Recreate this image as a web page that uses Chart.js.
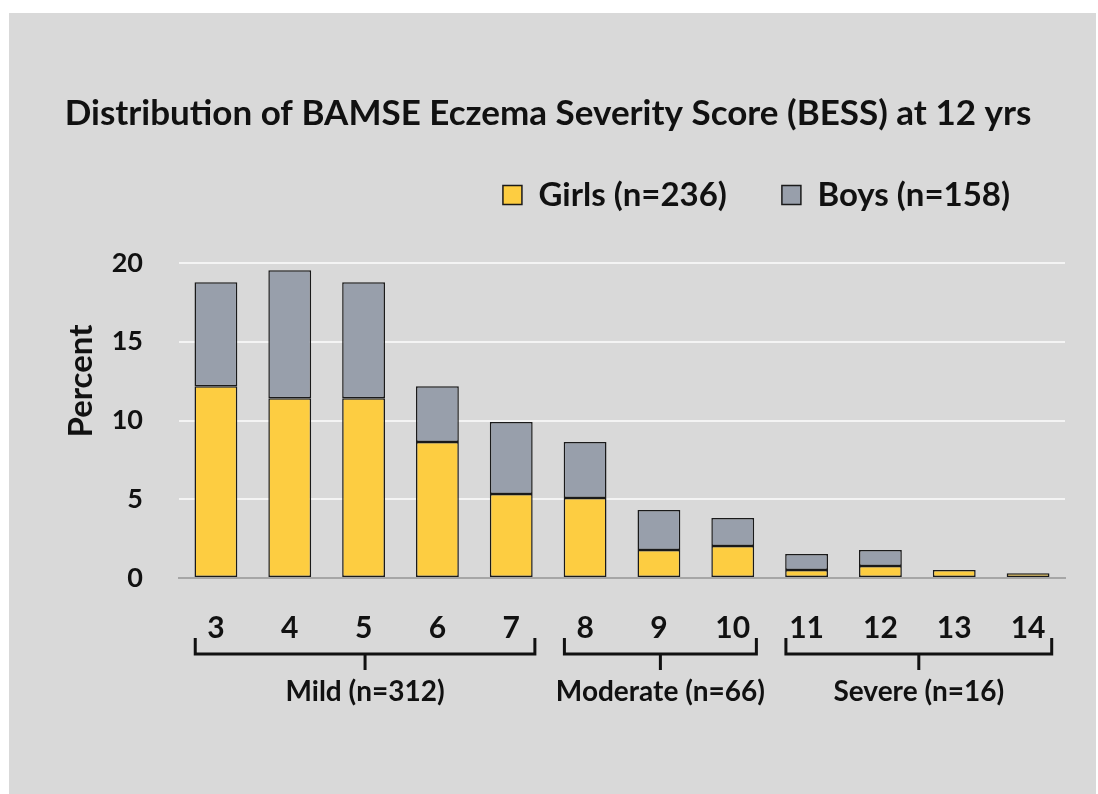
<!DOCTYPE html>
<html>
<head>
<meta charset="utf-8">
<script src="https://cdn.jsdelivr.net/npm/chart.js@4"></script>
<style>
  body { margin: 0; background: #fff; }
  #wrap { position: absolute; left: 9px; top: 13px; width: 1087px; height: 781px; background: #d9d9d9; }
</style>
</head>
<body>
<div id="wrap"><canvas id="bar-chart"></canvas></div>
<script>
const scores = ["3", "4", "5", "6", "7", "8", "9", "10", "11", "12", "13", "14"];
const girls = [12.18, 11.42, 11.42, 8.63, 5.33, 5.08, 1.78, 2.03, 0.51, 0.76, 0.51, 0.30];
const boys = [6.60, 8.12, 7.36, 3.55, 4.57, 3.55, 2.54, 1.78, 1.02, 1.02, 0, 0];
const yTicks = [0, 5, 10, 15, 20];
const groupLabels = ["Mild (n=312)", "Moderate (n=66)", "Severe (n=16)"];
const groupFirst = [0, 5, 8];
const groupLast = [4, 7, 11];

const font = "Lato";

// pushes the plot down below the legend
const legendGap = {
    id: 'legendGap',
    beforeInit(chart) {
        const fit = chart.legend.fit;
        chart.legend.fit = function () {
            fit.call(this);
            this.height += 41.5;
        };
    }
};

// brackets under the score labels + y axis title
const groups = {
    id: 'groups',
    afterDraw(chart) {
        const ctx = chart.ctx;
        const x = chart.scales.x;
        const step = x.getPixelForValue(1) - x.getPixelForValue(0);
        ctx.save();
        ctx.strokeStyle = '#111';
        ctx.lineWidth = 3;
        ctx.fillStyle = '#111';
        ctx.font = 'bold 28px ' + font;
        ctx.textAlign = 'center';
        ctx.textBaseline = 'middle';
        groupLabels.forEach((label, i) => {
            const left = x.getPixelForValue(groupFirst[i]) - 0.28 * step;
            const right = x.getPixelForValue(groupLast[i]) + 0.32 * step;
            const mid = (left + right) / 2;
            ctx.beginPath();
            ctx.moveTo(left, 625);
            ctx.lineTo(left, 641);
            ctx.lineTo(right, 641);
            ctx.lineTo(right, 625);
            ctx.moveTo(mid, 641);
            ctx.lineTo(mid, 657);
            ctx.stroke();
            ctx.fillText(label, mid, 679);
        });
        ctx.translate(72, 368);
        ctx.rotate(-Math.PI / 2);
        ctx.font = 'bold 33px ' + font;
        ctx.fillText('Percent', 0, 0);
        ctx.restore();
    }
};

new Chart(document.getElementById("bar-chart"), {
    type: 'bar',
    data: {
        labels: scores,
        datasets: [
            {
                label: "Girls (n=236)",
                backgroundColor: "#fdcd41",
                borderColor: "#1a1a1a",
                borderWidth: 1.5,
                borderSkipped: false,
                data: girls
            },
            {
                label: "Boys (n=158)",
                backgroundColor: "#989fab",
                borderColor: "#1a1a1a",
                borderWidth: 1.5,
                borderSkipped: false,
                data: boys
            }
        ]
    },
    options: {
        responsive: true,
        maintainAspectRatio: false,
        animation: false,
        layout: {padding: {left: 22, right: 31, top: 0, bottom: 0}},
        datasets: {bar: {categoryPercentage: 1, barPercentage: 0.58}},
        plugins: {
            tooltip: {enabled: false},
            title: {
                display: true,
                text: 'Distribution of BAMSE Eczema Severity Score (BESS) at 12 yrs',
                color: '#111',
                font: {family: font, size: 35, weight: 'bold'},
                padding: {top: 80, bottom: -11.5}
            },
            legend: {
                position: 'top',
                align: 'end',
                labels: {
                    color: '#111',
                    font: {family: font, size: 33, weight: 'bold'},
                    boxWidth: 19,
                    boxHeight: 19,
                    padding: 55
                }
            }
        },
        scales: {
            x: {
                stacked: true,
                grid: {display: false, drawTicks: false},
                border: {color: '#a6a6a6', width: 2},
                ticks: {color: '#111', font: {family: font, size: 30, weight: 'bold'}, padding: 32, maxRotation: 0},
                afterFit: s => { s.height = 216; }
            },
            y: {
                stacked: true,
                min: 0,
                max: 20,
                afterBuildTicks: s => { s.ticks = yTicks.map(v => ({value: v})); },
                grid: {
                    color: c => c.tick && c.tick.value === 0 ? 'rgba(0,0,0,0)' : '#f4f4f4',
                    lineWidth: 2,
                    drawTicks: false
                },
                border: {display: false},
                ticks: {color: '#111', font: {family: font, size: 27, weight: 'bold'}, padding: 36},
                afterFit: s => { s.width = 148; }
            }
        }
    },
    plugins: [legendGap, groups]
});
</script>
</body>
</html>
